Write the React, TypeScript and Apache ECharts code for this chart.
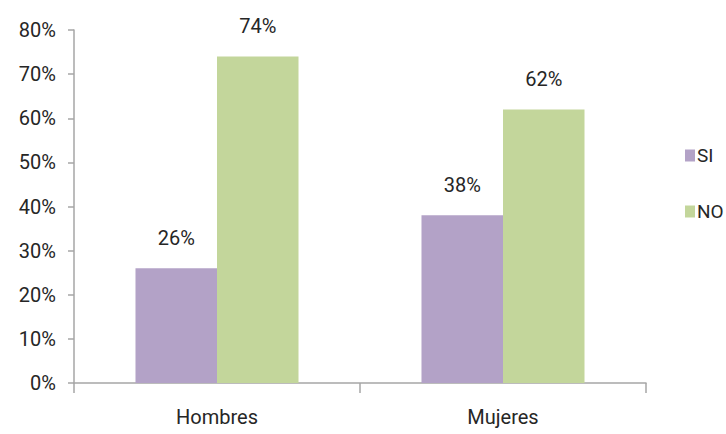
import React, { useEffect, useRef } from "react";
import * as echarts from "echarts";

const categories = ["Hombres", "Mujeres"];
const siValues = [0.26, 0.38];
const noValues = [0.74, 0.62];
const seriesNames = ["SI", "NO"];

const FONT = "Roboto, 'Open Sans', sans-serif";
const TEXT = "#262626";

export default function App() {
  const ref = useRef<HTMLDivElement>(null);
  useEffect(() => {
    document.body.style.margin = "0";
    const chart = echarts.init(ref.current!, undefined, { renderer: "svg" });
    const pct = (v: number) => Math.round(v * 100) + "%";
    const label = {
      show: true,
      position: "top" as const,
      distance: 20,
      color: TEXT,
      fontFamily: FONT,
      fontSize: 20,
      formatter: (p: any) => pct(p.value),
    };
    chart.setOption({
      animation: false,
      backgroundColor: "#ffffff",
      textStyle: { fontFamily: FONT },
      grid: { left: 74, right: 80, top: 30, bottom: 51, containLabel: false },
      legend: {
        orient: "vertical",
        left: 680,
        top: 141,
        itemWidth: 10,
        itemHeight: 12,
        itemGap: 37,
        icon: "rect",
        textStyle: { color: TEXT, fontFamily: FONT, fontSize: 19, padding: [0, 0, 0, -3] },
        data: seriesNames,
      },
      xAxis: {
        type: "category",
        data: categories,
        axisLine: { show: true, lineStyle: { color: "#a6a6a6", width: 1.5 } },
        axisTick: { show: true, alignWithLabel: false, length: 10, lineStyle: { color: "#a6a6a6", width: 1.5 } },
        axisLabel: { color: TEXT, fontFamily: FONT, fontSize: 20, margin: 24 },
      },
      yAxis: {
        type: "value",
        min: 0,
        max: 0.8,
        interval: 0.1,
        axisLine: { show: true, lineStyle: { color: "#a6a6a6", width: 1.5 } },
        axisTick: { show: true, length: 6, lineStyle: { color: "#a6a6a6", width: 1.5 } },
        splitLine: { show: false },
        axisLabel: {
          color: TEXT,
          fontFamily: FONT,
          fontSize: 20,
          margin: 18,
          formatter: (v: number) => pct(v),
        },
      },
      series: [
        {
          name: seriesNames[0],
          type: "bar",
          data: siValues,
          barGap: "0%",
          barCategoryGap: "43%",
          itemStyle: { color: "#b3a2c7" },
          label,
        },
        {
          name: seriesNames[1],
          type: "bar",
          data: noValues,
          barGap: "0%",
          barCategoryGap: "43%",
          itemStyle: { color: "#c3d69b" },
          label,
        },
      ],
    });
    return () => chart.dispose();
  }, []);
  return (
    <div
      ref={ref}
      style={{ position: "fixed", left: 0, top: 0, width: 726, height: 434 }}
    />
  );
}
